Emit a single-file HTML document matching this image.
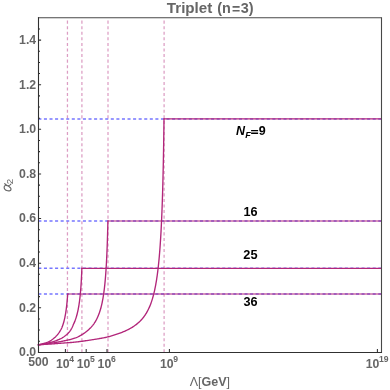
<!DOCTYPE html><html><head><meta charset="utf-8"><title>Triplet (n=3)</title>
<style>html,body{margin:0;padding:0;background:#fff;width:390px;height:390px;overflow:hidden}svg{display:block;will-change:transform}text{font-family:"Liberation Sans",sans-serif}</style></head><body>
<svg width="390" height="390" viewBox="0 0 390 390">
<rect width="390" height="390" fill="#fff"/>
<defs><clipPath id="cp"><rect x="37.5" y="17.8" width="344.0" height="334.59999999999997"/></clipPath></defs>
<g clip-path="url(#cp)" fill="none">
<line x1="67.45" y1="352.4" x2="67.45" y2="17.8" stroke="#b2267a" stroke-opacity="0.45" stroke-width="1.25" stroke-dasharray="3.05 2.522"/>
<line x1="81.9" y1="352.4" x2="81.9" y2="17.8" stroke="#b2267a" stroke-opacity="0.45" stroke-width="1.25" stroke-dasharray="3.05 2.522"/>
<line x1="108.0" y1="352.4" x2="108.0" y2="17.8" stroke="#b2267a" stroke-opacity="0.45" stroke-width="1.25" stroke-dasharray="3.05 2.522"/>
<line x1="164.1" y1="352.4" x2="164.1" y2="17.8" stroke="#b2267a" stroke-opacity="0.45" stroke-width="1.25" stroke-dasharray="3.05 2.522"/>
<line x1="38.35" y1="294.0" x2="381.5" y2="294.0" stroke="#7676ff" stroke-width="1.6" stroke-dasharray="3.05 2.522"/>
<line x1="38.35" y1="268.28" x2="381.5" y2="268.28" stroke="#7676ff" stroke-width="1.6" stroke-dasharray="3.05 2.522"/>
<line x1="38.35" y1="221.0" x2="381.5" y2="221.0" stroke="#7676ff" stroke-width="1.6" stroke-dasharray="3.05 2.522"/>
<line x1="38.35" y1="119.07000000000001" x2="381.5" y2="119.07000000000001" stroke="#7676ff" stroke-width="1.6" stroke-dasharray="3.05 2.522"/>
<path d="M37.617,344.915 L38.413,344.774 L39.207,344.625 L40.000,344.466 L40.791,344.296 L41.579,344.115 L42.364,343.922 L43.145,343.714 L43.922,343.491 L44.694,343.251 L45.461,342.994 L46.221,342.719 L46.974,342.425 L47.720,342.113 L48.459,341.784 L49.186,341.432 L49.901,341.054 L50.602,340.651 L51.287,340.221 L51.955,339.766 L52.606,339.287 L53.241,338.786 L53.861,338.268 L54.470,337.736 L55.074,337.198 L55.664,336.645 L56.233,336.071 L56.784,335.480 L57.319,334.873 L57.836,334.252 L58.335,333.615 L58.815,332.965 L59.274,332.299 L59.713,331.620 L60.138,330.933 L60.549,330.237 L60.945,329.531 L61.323,328.817 L61.681,328.092 L62.016,327.356 L62.325,326.609 L62.604,325.850 L62.863,325.084 L63.111,324.315 L63.347,323.542 L63.573,322.765 L63.788,321.986 L63.994,321.204 L64.191,320.420 L64.380,319.634 L64.560,318.845 L64.732,318.056 L64.898,317.264 L65.056,316.471 L65.208,315.677 L65.354,314.882 L65.493,314.085 L65.627,313.288 L65.756,312.490 L65.879,311.691 L65.998,310.891 L66.112,310.091 L66.222,309.290 L66.327,308.488 L66.429,307.686 L66.526,306.883 L66.620,306.080 L66.710,305.277 L66.797,304.473 L66.881,303.669 L66.962,302.864 L67.039,302.060 L67.114,301.255 L67.187,300.449 L67.256,299.644 L67.323,298.838 L67.388,298.032 L67.451,297.226 L67.511,296.420 L67.569,295.613 L67.625,294.807 L67.679,294.000 L67.68,293.40" stroke="#b2267a" stroke-width="1.35" stroke-linejoin="round"/>
<path d="M67.00,294.00 L381.50,294.00" stroke="#b2267a" stroke-width="1.2"/>
<path d="M37.620,345.001 L38.415,344.875 L39.209,344.744 L40.003,344.610 L40.796,344.473 L41.589,344.334 L42.382,344.191 L43.173,344.044 L43.964,343.894 L44.754,343.739 L45.544,343.579 L46.331,343.413 L47.118,343.241 L47.903,343.061 L48.686,342.873 L49.467,342.678 L50.246,342.475 L51.023,342.265 L51.798,342.047 L52.571,341.821 L53.341,341.585 L54.108,341.341 L54.872,341.086 L55.632,340.820 L56.388,340.543 L57.139,340.253 L57.886,339.952 L58.628,339.640 L59.364,339.314 L60.094,338.974 L60.816,338.619 L61.529,338.244 L62.230,337.848 L62.917,337.429 L63.592,336.989 L64.252,336.529 L64.901,336.052 L65.538,335.560 L66.162,335.051 L66.771,334.525 L67.365,333.981 L67.942,333.419 L68.500,332.839 L69.038,332.240 L69.554,331.622 L70.044,330.983 L70.507,330.325 L70.944,329.649 L71.357,328.957 L71.747,328.253 L72.117,327.538 L72.469,326.814 L72.785,326.074 L73.078,325.324 L73.377,324.576 L73.709,323.843 L74.046,323.111 L74.369,322.374 L74.678,321.631 L74.975,320.882 L75.259,320.129 L75.532,319.371 L75.793,318.610 L76.043,317.844 L76.282,317.076 L76.512,316.304 L76.732,315.530 L76.944,314.753 L77.146,313.973 L77.341,313.192 L77.527,312.409 L77.706,311.624 L77.878,310.837 L78.043,310.049 L78.202,309.260 L78.354,308.469 L78.501,307.678 L78.642,306.885 L78.777,306.091 L78.908,305.297 L79.033,304.502 L79.154,303.705 L79.270,302.909 L79.383,302.112 L79.491,301.314 L79.595,300.515 L79.695,299.716 L79.792,298.917 L79.886,298.118 L79.976,297.317 L80.063,296.517 L80.147,295.716 L80.229,294.915 L80.307,294.114 L80.383,293.312 L80.457,292.511 L80.528,291.709 L80.596,290.906 L80.663,290.104 L80.727,289.301 L80.789,288.499 L80.850,287.696 L80.908,286.893 L80.964,286.090 L81.019,285.286 L81.072,284.483 L81.124,283.680 L81.174,282.876 L81.222,282.072 L81.269,281.268 L81.314,280.465 L81.359,279.661 L81.401,278.857 L81.443,278.053 L81.483,277.249 L81.523,276.444 L81.561,275.640 L81.598,274.836 L81.634,274.031 L81.669,273.227 L81.703,272.423 L81.736,271.618 L81.768,270.814 L81.799,270.009 L81.829,269.205 L81.859,268.400 L81.86,267.80" stroke="#b2267a" stroke-width="1.35" stroke-linejoin="round"/>
<path d="M81.18,268.40 L381.50,268.40" stroke="#b2267a" stroke-width="1.2"/>
<path d="M37.628,344.861 L38.425,344.772 L39.222,344.682 L40.019,344.591 L40.816,344.498 L41.613,344.404 L42.409,344.309 L43.206,344.213 L44.002,344.115 L44.798,344.016 L45.594,343.915 L46.390,343.812 L47.185,343.708 L47.980,343.602 L48.775,343.493 L49.570,343.383 L50.364,343.271 L51.158,343.156 L51.951,343.040 L52.745,342.920 L53.538,342.798 L54.330,342.674 L55.122,342.547 L55.914,342.416 L56.705,342.283 L57.495,342.146 L58.285,342.007 L59.074,341.863 L59.863,341.716 L60.651,341.565 L61.438,341.410 L62.224,341.251 L63.010,341.088 L63.794,340.920 L64.578,340.749 L65.362,340.581 L66.147,340.414 L66.931,340.246 L67.715,340.076 L68.499,339.903 L69.281,339.725 L70.062,339.540 L70.840,339.347 L71.616,339.145 L72.389,338.931 L73.159,338.704 L73.924,338.463 L74.684,338.207 L75.439,337.935 L76.187,337.645 L76.926,337.333 L77.656,337.000 L78.377,336.649 L79.091,336.283 L79.797,335.903 L80.498,335.512 L81.193,335.111 L81.883,334.702 L82.567,334.284 L83.241,333.849 L83.906,333.400 L84.561,332.937 L85.208,332.462 L85.846,331.976 L86.475,331.478 L87.096,330.970 L87.708,330.452 L88.312,329.924 L88.908,329.387 L89.495,328.840 L90.073,328.284 L90.640,327.716 L91.192,327.134 L91.730,326.539 L92.253,325.931 L92.761,325.310 L93.254,324.677 L93.731,324.033 L94.194,323.377 L94.641,322.711 L95.073,322.036 L95.491,321.351 L95.894,320.657 L96.282,319.955 L96.657,319.246 L97.017,318.529 L97.365,317.806 L97.700,317.077 L98.022,316.342 L98.332,315.603 L98.631,314.858 L98.918,314.109 L99.195,313.356 L99.461,312.599 L99.717,311.839 L99.964,311.076 L100.202,310.310 L100.431,309.541 L100.652,308.770 L100.865,307.996 L101.070,307.221 L101.268,306.444 L101.459,305.664 L101.643,304.884 L101.821,304.101 L101.993,303.318 L102.159,302.533 L102.320,301.747 L102.475,300.960 L102.625,300.172 L102.770,299.383 L102.911,298.593 L103.047,297.803 L103.179,297.011 L103.306,296.219 L103.430,295.427 L103.550,294.634 L103.667,293.840 L103.780,293.046 L103.889,292.251 L103.996,291.456 L104.099,290.660 L104.199,289.864 L104.297,289.068 L104.392,288.272 L104.484,287.475 L104.574,286.678 L104.661,285.880 L104.746,285.082 L104.829,284.285 L104.909,283.486 L104.988,282.688 L105.064,281.889 L105.139,281.091 L105.211,280.292 L105.282,279.493 L105.351,278.694 L105.419,277.894 L105.484,277.095 L105.548,276.295 L105.611,275.495 L105.672,274.695 L105.732,273.895 L105.791,273.095 L105.848,272.295 L105.903,271.495 L105.958,270.695 L106.011,269.894 L106.063,269.094 L106.114,268.293 L106.164,267.492 L106.213,266.692 L106.261,265.891 L106.308,265.090 L106.354,264.289 L106.398,263.488 L106.442,262.687 L106.485,261.886 L106.528,261.085 L106.569,260.284 L106.610,259.483 L106.649,258.682 L106.688,257.880 L106.726,257.079 L106.764,256.278 L106.801,255.476 L106.837,254.675 L106.872,253.873 L106.907,253.072 L106.941,252.271 L106.975,251.469 L107.007,250.668 L107.040,249.866 L107.071,249.064 L107.103,248.263 L107.133,247.461 L107.163,246.660 L107.193,245.858 L107.222,245.056 L107.250,244.255 L107.278,243.453 L107.306,242.651 L107.333,241.849 L107.360,241.048 L107.386,240.246 L107.412,239.444 L107.437,238.642 L107.462,237.840 L107.487,237.039 L107.511,236.237 L107.535,235.435 L107.558,234.633 L107.581,233.831 L107.604,233.029 L107.626,232.227 L107.648,231.425 L107.670,230.624 L107.691,229.822 L107.712,229.020 L107.733,228.218 L107.754,227.416 L107.774,226.614 L107.794,225.812 L107.813,225.010 L107.832,224.208 L107.851,223.406 L107.870,222.604 L107.888,221.802 L107.907,221.000 L108.20,221.00 L108.20,220.40" stroke="#b2267a" stroke-width="1.35" stroke-linejoin="round"/>
<path d="M107.53,221.00 L381.50,221.00" stroke="#b2267a" stroke-width="1.2"/>
<path d="M37.632,344.858 L38.432,344.800 L39.231,344.743 L40.031,344.689 L40.831,344.637 L41.631,344.586 L42.431,344.537 L43.231,344.489 L44.032,344.441 L44.832,344.394 L45.632,344.347 L46.432,344.299 L47.233,344.251 L48.033,344.201 L48.833,344.151 L49.633,344.098 L50.433,344.044 L51.232,343.988 L52.032,343.931 L52.832,343.874 L53.631,343.816 L54.431,343.757 L55.230,343.697 L56.030,343.636 L56.829,343.575 L57.628,343.514 L58.427,343.451 L59.227,343.389 L60.026,343.326 L60.825,343.262 L61.624,343.199 L62.423,343.135 L63.222,343.071 L64.021,343.007 L64.821,342.944 L65.620,342.883 L66.419,342.824 L67.219,342.766 L68.019,342.708 L68.818,342.649 L69.618,342.590 L70.417,342.530 L71.216,342.467 L72.015,342.402 L72.814,342.334 L73.612,342.261 L74.410,342.184 L75.208,342.102 L76.005,342.015 L76.801,341.923 L77.597,341.829 L78.393,341.733 L79.189,341.634 L79.984,341.534 L80.779,341.431 L81.574,341.327 L82.369,341.220 L83.163,341.112 L83.957,341.002 L84.751,340.891 L85.545,340.778 L86.338,340.663 L87.131,340.547 L87.924,340.429 L88.717,340.310 L89.509,340.189 L90.302,340.067 L91.094,339.944 L91.886,339.819 L92.678,339.694 L93.469,339.567 L94.261,339.439 L95.052,339.311 L95.843,339.183 L96.634,339.053 L97.426,338.923 L98.216,338.792 L99.007,338.658 L99.797,338.522 L100.586,338.384 L101.375,338.242 L102.164,338.097 L102.951,337.947 L103.738,337.793 L104.524,337.634 L105.309,337.470 L106.092,337.301 L106.874,337.123 L107.654,336.938 L108.432,336.745 L109.208,336.545 L109.983,336.338 L110.755,336.124 L111.526,335.904 L112.295,335.678 L113.063,335.446 L113.829,335.209 L114.593,334.966 L115.355,334.719 L116.116,334.467 L116.876,334.210 L117.634,333.949 L118.390,333.683 L119.145,333.414 L119.899,333.140 L120.650,332.862 L121.399,332.576 L122.145,332.283 L122.889,331.982 L123.629,331.674 L124.365,331.358 L125.099,331.034 L125.828,330.702 L126.554,330.361 L127.276,330.012 L127.993,329.654 L128.706,329.287 L129.413,328.911 L130.116,328.525 L130.814,328.129 L131.505,327.724 L132.191,327.309 L132.870,326.883 L133.542,326.446 L134.208,325.999 L134.866,325.541 L135.515,325.072 L136.156,324.590 L136.788,324.096 L137.410,323.591 L138.022,323.073 L138.624,322.543 L139.214,322.001 L139.794,321.447 L140.362,320.882 L140.919,320.305 L141.463,319.717 L141.996,319.117 L142.516,318.507 L143.024,317.887 L143.520,317.257 L144.003,316.617 L144.473,315.968 L144.931,315.310 L145.377,314.644 L145.810,313.969 L146.231,313.287 L146.641,312.598 L147.038,311.902 L147.424,311.199 L147.799,310.491 L148.163,309.776 L148.516,309.057 L148.859,308.332 L149.191,307.602 L149.514,306.868 L149.826,306.130 L150.130,305.388 L150.425,304.643 L150.711,303.894 L150.988,303.142 L151.257,302.387 L151.519,301.629 L151.773,300.868 L152.019,300.106 L152.259,299.341 L152.492,298.573 L152.718,297.804 L152.938,297.033 L153.151,296.261 L153.359,295.487 L153.561,294.711 L153.758,293.934 L153.950,293.155 L154.136,292.376 L154.318,291.595 L154.495,290.813 L154.667,290.030 L154.835,289.246 L154.999,288.461 L155.158,287.676 L155.314,286.889 L155.466,286.102 L155.614,285.314 L155.759,284.526 L155.900,283.737 L156.039,282.947 L156.173,282.157 L156.305,281.366 L156.434,280.575 L156.560,279.783 L156.683,278.991 L156.803,278.198 L156.921,277.405 L157.036,276.612 L157.149,275.818 L157.259,275.024 L157.367,274.230 L157.473,273.435 L157.577,272.640 L157.678,271.845 L157.778,271.049 L157.875,270.254 L157.971,269.458 L158.065,268.662 L158.156,267.865 L158.247,267.069 L158.335,266.272 L158.422,265.475 L158.507,264.678 L158.590,263.881 L158.672,263.083 L158.753,262.285 L158.832,261.488 L158.910,260.690 L158.986,259.892 L159.061,259.094 L159.135,258.295 L159.207,257.497 L159.278,256.698 L159.348,255.900 L159.417,255.101 L159.484,254.302 L159.551,253.503 L159.616,252.704 L159.680,251.905 L159.744,251.106 L159.806,250.307 L159.867,249.508 L159.927,248.708 L159.987,247.909 L160.045,247.109 L160.102,246.309 L160.159,245.510 L160.215,244.710 L160.270,243.910 L160.324,243.110 L160.377,242.311 L160.429,241.511 L160.481,240.711 L160.532,239.911 L160.582,239.110 L160.631,238.310 L160.680,237.510 L160.728,236.710 L160.775,235.910 L160.822,235.109 L160.868,234.309 L160.913,233.509 L160.958,232.708 L161.002,231.908 L161.045,231.107 L161.088,230.307 L161.131,229.506 L161.172,228.705 L161.213,227.905 L161.254,227.104 L161.294,226.304 L161.334,225.503 L161.372,224.702 L161.411,223.901 L161.449,223.101 L161.486,222.300 L161.523,221.499 L161.560,220.698 L161.596,219.897 L161.632,219.096 L161.667,218.296 L161.701,217.495 L161.736,216.694 L161.770,215.893 L161.803,215.092 L161.836,214.291 L161.869,213.490 L161.901,212.689 L161.933,211.888 L161.964,211.087 L161.995,210.286 L162.026,209.485 L162.056,208.683 L162.086,207.882 L162.115,207.081 L162.145,206.280 L162.173,205.479 L162.202,204.678 L162.230,203.877 L162.258,203.075 L162.286,202.274 L162.313,201.473 L162.340,200.672 L162.366,199.871 L162.393,199.069 L162.419,198.268 L162.444,197.467 L162.470,196.666 L162.495,195.864 L162.520,195.063 L162.544,194.262 L162.568,193.460 L162.592,192.659 L162.616,191.858 L162.640,191.056 L162.663,190.255 L162.686,189.454 L162.709,188.652 L162.731,187.851 L162.753,187.050 L162.775,186.248 L162.797,185.447 L162.818,184.646 L162.840,183.844 L162.861,183.043 L162.882,182.241 L162.902,181.440 L162.922,180.639 L162.943,179.837 L162.963,179.036 L162.982,178.234 L163.002,177.433 L163.021,176.631 L163.040,175.830 L163.059,175.029 L163.078,174.227 L163.096,173.426 L163.115,172.624 L163.133,171.823 L163.151,171.021 L163.169,170.220 L163.186,169.418 L163.204,168.617 L163.221,167.815 L163.238,167.014 L163.255,166.212 L163.272,165.411 L163.288,164.609 L163.305,163.808 L163.321,163.006 L163.337,162.205 L163.353,161.403 L163.368,160.602 L163.384,159.800 L163.399,158.999 L163.415,158.197 L163.430,157.396 L163.445,156.594 L163.460,155.793 L163.474,154.991 L163.489,154.190 L163.503,153.388 L163.518,152.586 L163.532,151.785 L163.546,150.983 L163.560,150.182 L163.573,149.380 L163.587,148.579 L163.600,147.777 L163.614,146.976 L163.627,146.174 L163.640,145.373 L163.653,144.571 L163.666,143.769 L163.678,142.968 L163.691,142.166 L163.703,141.365 L163.716,140.563 L163.728,139.762 L163.740,138.960 L163.752,138.158 L163.764,137.357 L163.776,136.555 L163.787,135.754 L163.799,134.952 L163.810,134.150 L163.822,133.349 L163.833,132.547 L163.844,131.746 L163.855,130.944 L163.866,130.142 L163.877,129.341 L163.887,128.539 L163.898,127.738 L163.909,126.936 L163.919,126.134 L163.929,125.333 L163.940,124.531 L163.950,123.730 L163.960,122.928 L163.970,122.126 L163.980,121.325 L163.989,120.523 L163.999,119.722 L164.009,118.920 L164.20,118.92 L164.20,118.32" stroke="#b2267a" stroke-width="1.35" stroke-linejoin="round"/>
<path d="M163.52,118.92 L381.50,118.92" stroke="#b2267a" stroke-width="1.2"/>
</g>
<path d="M37.95,17.8H382.05" stroke="#484848" stroke-width="1.05" fill="none"/>
<path d="M381.5,17.8V352.4" stroke="#484848" stroke-width="1.1" fill="none"/>
<path d="M38.5,17.3V353.0" stroke="#303030" stroke-width="1.1" fill="none"/>
<path d="M37.95,352.52H382.05" stroke="#303030" stroke-width="1.05" fill="none"/>
<path d="M38.5,341.25h1.5 M38.5,330.09h1.5 M38.5,318.94h1.5 M38.5,307.79h2.6 M38.5,296.63h1.5 M38.5,285.48h1.5 M38.5,274.33h1.5 M38.5,263.17h2.6 M38.5,252.02h1.5 M38.5,240.87h1.5 M38.5,229.71h1.5 M38.5,218.56h2.6 M38.5,207.41h1.5 M38.5,196.25h1.5 M38.5,185.10h1.5 M38.5,173.95h2.6 M38.5,162.79h1.5 M38.5,151.64h1.5 M38.5,140.49h1.5 M38.5,129.33h2.6 M38.5,118.18h1.5 M38.5,107.03h1.5 M38.5,95.87h1.5 M38.5,84.72h2.6 M38.5,73.57h1.5 M38.5,62.41h1.5 M38.5,51.26h1.5 M38.5,40.11h2.6 M38.5,28.95h1.5 M65.40,352.4v-3.4 M86.20,352.4v-3.4 M107.00,352.4v-3.4 M169.40,352.4v-3.4 M377.40,352.4v-3.4" stroke="#303030" stroke-width="1.05" fill="none"/>
<text transform="translate(36.20,356.02) scale(1.025,1)" text-anchor="end" font-size="12" font-weight="bold" font-style="normal" fill="#666666">0.0</text>
<text transform="translate(36.20,311.51) scale(1.025,1)" text-anchor="end" font-size="12" font-weight="bold" font-style="normal" fill="#666666">0.2</text>
<text transform="translate(36.20,266.99) scale(1.025,1)" text-anchor="end" font-size="12" font-weight="bold" font-style="normal" fill="#666666">0.4</text>
<text transform="translate(36.20,222.48) scale(1.025,1)" text-anchor="end" font-size="12" font-weight="bold" font-style="normal" fill="#666666">0.6</text>
<text transform="translate(36.20,177.96) scale(1.025,1)" text-anchor="end" font-size="12" font-weight="bold" font-style="normal" fill="#666666">0.8</text>
<text transform="translate(36.20,133.45) scale(1.025,1)" text-anchor="end" font-size="12" font-weight="bold" font-style="normal" fill="#666666">1.0</text>
<text transform="translate(36.20,88.94) scale(1.025,1)" text-anchor="end" font-size="12" font-weight="bold" font-style="normal" fill="#666666">1.2</text>
<text transform="translate(36.20,44.42) scale(1.025,1)" text-anchor="end" font-size="12" font-weight="bold" font-style="normal" fill="#666666">1.4</text>
<text transform="translate(38.45,365.65) scale(1.02,1)" text-anchor="middle" font-size="12" font-weight="bold" font-style="normal" fill="#666666">500</text>
<text transform="translate(55.99,367.55) scale(1.02,1)" text-anchor="start" font-size="12" font-weight="bold" font-style="normal" fill="#666666">10</text>
<text transform="translate(69.31,361.65)" text-anchor="start" font-size="8.6" font-weight="bold" font-style="normal" fill="#666666">4</text>
<text transform="translate(76.79,367.55) scale(1.02,1)" text-anchor="start" font-size="12" font-weight="bold" font-style="normal" fill="#666666">10</text>
<text transform="translate(90.11,361.65)" text-anchor="start" font-size="8.6" font-weight="bold" font-style="normal" fill="#666666">5</text>
<text transform="translate(97.59,367.55) scale(1.02,1)" text-anchor="start" font-size="12" font-weight="bold" font-style="normal" fill="#666666">10</text>
<text transform="translate(110.91,361.65)" text-anchor="start" font-size="8.6" font-weight="bold" font-style="normal" fill="#666666">6</text>
<text transform="translate(159.99,367.55) scale(1.02,1)" text-anchor="start" font-size="12" font-weight="bold" font-style="normal" fill="#666666">10</text>
<text transform="translate(173.31,361.65)" text-anchor="start" font-size="8.6" font-weight="bold" font-style="normal" fill="#666666">9</text>
<text transform="translate(365.74,367.55) scale(1.02,1)" text-anchor="start" font-size="12" font-weight="bold" font-style="normal" fill="#666666">10</text>
<text transform="translate(379.06,361.65)" text-anchor="start" font-size="8.6" font-weight="bold" font-style="normal" fill="#666666">19</text>
<text transform="translate(166.80,13.10) scale(1.085,1)" text-anchor="start" font-size="14" font-weight="bold" font-style="normal" fill="#666666">Triplet</text>
<text transform="translate(217.30,13.10) scale(1.03,1)" text-anchor="start" font-size="14" font-weight="bold" font-style="normal" fill="#666666">(n</text>
<text transform="translate(232.10,13.60)" text-anchor="start" font-size="14" font-weight="bold" font-style="normal" fill="#666666">=</text>
<text transform="translate(240.85,13.10) scale(1.03,1)" text-anchor="start" font-size="14" font-weight="bold" font-style="normal" fill="#666666">3)</text>
<text transform="translate(189.70,385.90)" text-anchor="start" font-size="12.5" font-weight="normal" font-style="normal" fill="#666666">Λ[<tspan font-weight="bold">GeV</tspan>]</text>
<path d="M4.7,183.7 C5.4,184.6 6.6,185.2 7.6,185.8 C9.6,186.9 11.2,187.9 11.0,189.3 C10.8,190.7 9.2,191.2 7.7,190.8 C5.6,190.2 3.9,188.4 4.2,186.8 C4.5,185.3 6.2,185.1 7.6,185.8 C8.9,185.7 10.2,185.2 10.8,184.2" stroke="#666666" stroke-width="1.15" fill="none" stroke-linecap="round"/>
<text transform="translate(13.2,184.2) rotate(-90)" font-size="9.8" fill="#666666">2</text>
<text transform="translate(236.00,135.40)" text-anchor="start" font-size="12.5" font-weight="bold" font-style="italic" fill="#000">N</text>
<text transform="translate(245.30,137.80)" text-anchor="start" font-size="9" font-weight="bold" font-style="italic" fill="#000">F</text>
<path d="M251.1,130.65h7 M251.1,133.25h7" stroke="#000" stroke-width="1.4" fill="none"/>
<text transform="translate(258.75,135.40)" text-anchor="start" font-size="12.5" font-weight="bold" font-style="normal" fill="#000">9</text>
<text transform="translate(250.60,215.60) scale(1.03,1)" text-anchor="middle" font-size="12.3" font-weight="bold" font-style="normal" fill="#000">16</text>
<text transform="translate(250.40,259.30) scale(1.04,1)" text-anchor="middle" font-size="12.3" font-weight="bold" font-style="normal" fill="#000">25</text>
<text transform="translate(250.60,306.00) scale(1.03,1)" text-anchor="middle" font-size="12.3" font-weight="bold" font-style="normal" fill="#000">36</text>
</svg></body></html>
